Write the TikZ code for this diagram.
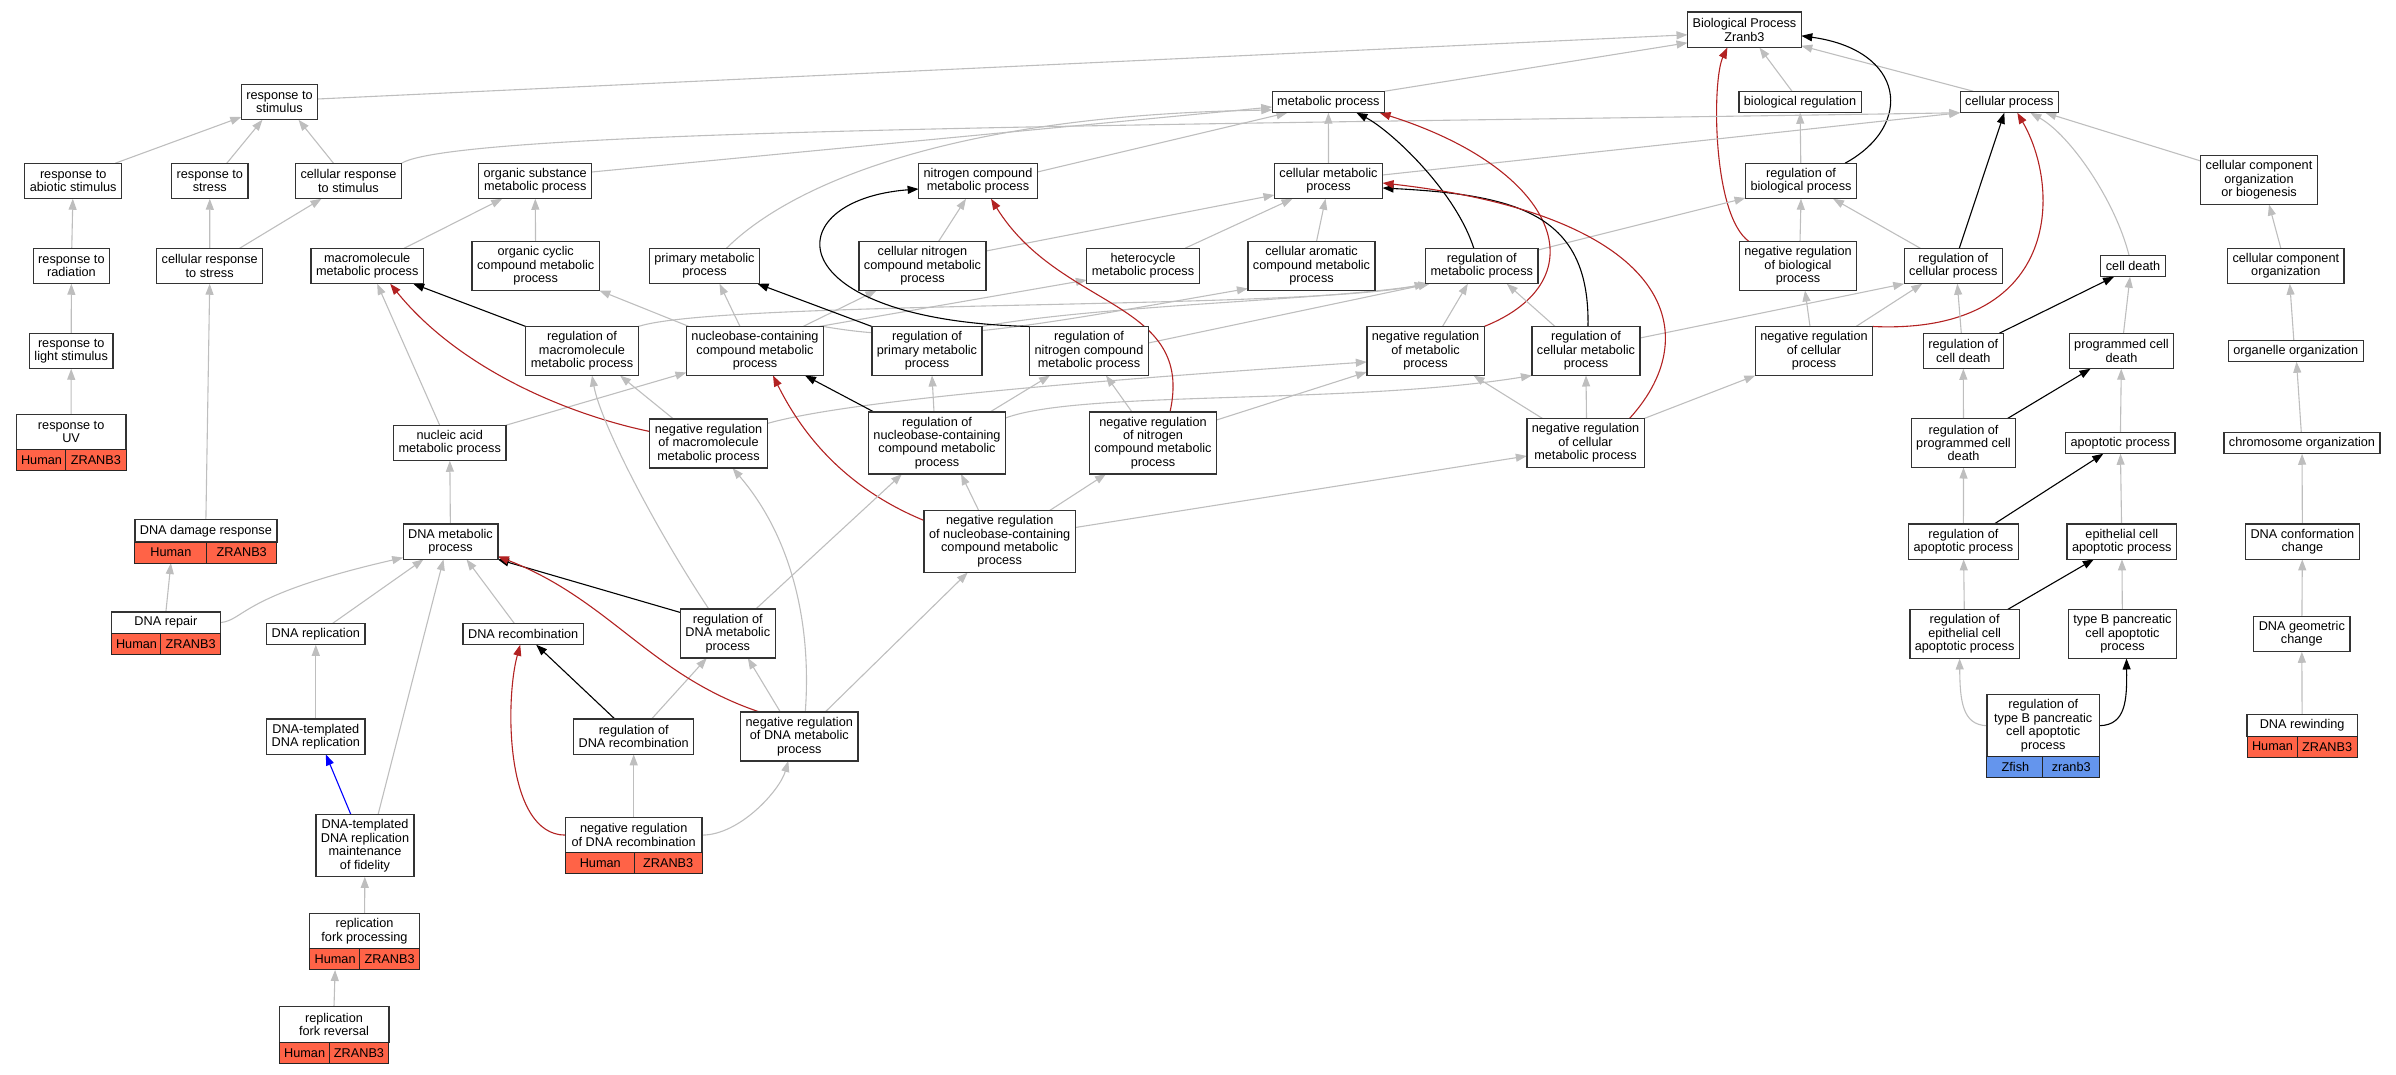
\documentclass[tikz,border=0pt]{standalone}
\usepackage{fontspec}
\setmainfont{Liberation Sans}
\usetikzlibrary{arrows.meta}
\pgfdeclarelayer{background}
\pgfsetlayers{background,main}
\definecolor{edgegray}{RGB}{190,190,190}
\definecolor{negred}{RGB}{178,34,34}
\definecolor{partblue}{RGB}{0,0,255}
\definecolor{humancol}{RGB}{255,99,71}
\definecolor{zfishcol}{RGB}{100,149,237}
\tikzset{
    term/.style={draw=black!80, line width=1.3pt, fill=white, align=center,
        inner xsep=5pt, inner ysep=1pt, outer sep=0pt,
        font=\fontsize{12.7}{13.4}\selectfont},
    l1/.style={minimum height=21.5pt},
    l2/.style={minimum height=35.5pt},
    l3/.style={minimum height=49pt},
    l4/.style={minimum height=62pt},
    human/.style={draw=black!85, line width=1pt, fill=humancol, inner sep=0pt,
        outer sep=0pt, minimum height=21pt, font=\fontsize{12.7}{13.4}\selectfont},
    zfish/.style={human, fill=zfishcol},
    isa/.style={draw=edgegray, line width=1.1pt, -{Triangle[length=11pt,width=8pt]}},
    reg/.style={isa, draw=black},
    negreg/.style={isa, draw=negred},
    partof/.style={isa, draw=partblue},
}
% species / gene row under an annotated term
\newcommand{\genecells}[6]{%
    \node[#2, anchor=north west, minimum width=#5pt] (#1A) at (#1.south west) {#3};
    \node[#2, anchor=north east, minimum width=#6pt] (#1B) at (#1.south east) {#4};
}

\begin{document}
\begin{tikzpicture}[x=1pt,y=-1pt]
    \useasboundingbox (0,0) rectangle (2396,1075);
    %% Root
    \node[term,l2] (bp) at (1744.4,29.8) {Biological Process\\Zranb3};
    %% Level 2
    \node[term,l2] (rstim) at (279.5,102) {response to\\stimulus};
    \node[term,l1] (metab) at (1328.4,102) {metabolic process};
    \node[term,l1] (bioreg) at (1800,102) {biological regulation};
    \node[term,l1] (cellp) at (2009.3,102) {cellular process};
    %% Level 3
    \node[term,l2] (rabio) at (73.2,181) {response to\\abiotic stimulus};
    \node[term,l2] (rstress) at (209.8,181) {response to\\stress};
    \node[term,l2] (crstim) at (348.5,181) {cellular response\\to stimulus};
    \node[term,l2] (orgsub) at (535.2,181) {organic substance\\metabolic process};
    \node[term,l2] (nitro) at (978,181) {nitrogen compound\\metabolic process};
    \node[term,l2] (cellmet) at (1328.5,181) {cellular metabolic\\process};
    \node[term,l2] (regbio) at (1801,181) {regulation of\\biological process};
    \node[term,l3] (ccob) at (2259,180) {cellular component\\organization\\or biogenesis};
    %% Level 4
    \node[term,l2] (rrad) at (71.4,266) {response to\\radiation};
    \node[term,l2] (crstress) at (209.7,266) {cellular response\\to stress};
    \node[term,l2] (macro) at (367.2,266) {macromolecule\\metabolic process};
    \node[term,l3] (orgcyc) at (535.7,266) {organic cyclic\\compound metabolic\\process};
    \node[term,l2] (prim) at (704.5,266) {primary metabolic\\process};
    \node[term,l3] (cellnitro) at (922.5,266) {cellular nitrogen\\compound metabolic\\process};
    \node[term,l2] (hetero) at (1143,266) {heterocycle\\metabolic process};
    \node[term,l3] (cellarom) at (1311.5,266) {cellular aromatic\\compound metabolic\\process};
    \node[term,l2] (regmet) at (1481.8,266) {regulation of\\metabolic process};
    \node[term,l3] (negregbio) at (1798,266) {negative regulation\\of biological\\process};
    \node[term,l2] (regcellp) at (1953.3,266) {regulation of\\cellular process};
    \node[term,l1] (celldeath) at (2133,266) {cell death};
    \node[term,l2] (cco) at (2285.8,266) {cellular component\\organization};
    %% Level 5
    \node[term,l2] (rlight) at (71.2,351) {response to\\light stimulus};
    \node[term,l3] (regmacro) at (582,351) {regulation of\\macromolecule\\metabolic process};
    \node[term,l3] (nucleo) at (755,351) {nucleobase-containing\\compound metabolic\\process};
    \node[term,l3] (regprim) at (927,351) {regulation of\\primary metabolic\\process};
    \node[term,l3] (regnitro) at (1089,351) {regulation of\\nitrogen compound\\metabolic process};
    \node[term,l3] (negregmet) at (1425.5,351) {negative regulation\\of metabolic\\process};
    \node[term,l3] (regcellmet) at (1586,351) {regulation of\\cellular metabolic\\process};
    \node[term,l3] (negregcellp) at (1814,351) {negative regulation\\of cellular\\process};
    \node[term,l2] (regcd) at (1963.3,351) {regulation of\\cell death};
    \node[term,l2] (pcd) at (2121.5,351) {programmed cell\\death};
    \node[term,l1] (orgorg) at (2295.8,351) {organelle organization};
    %% Level 6
    \node[term,l2,minimum width=109.7pt] (ruv) at (71.15,432.2) {response to\\UV};
    \genecells{ruv}{human}{Human}{ZRANB3}{50.5}{60.2}
    \node[term,l2] (nucacid) at (449.7,443) {nucleic acid\\metabolic process};
    \node[term,l3] (negregmacro) at (708.5,443.5) {negative regulation\\of macromolecule\\metabolic process};
    \node[term,l4] (regnucleo) at (937,443) {regulation of\\nucleobase-containing\\compound metabolic\\process};
    \node[term,l4] (negregnitro) at (1153,443) {negative regulation\\of nitrogen\\compound metabolic\\process};
    \node[term,l3] (negregcellmet) at (1585.5,443) {negative regulation\\of cellular\\metabolic process};
    \node[term,l3] (regpcd) at (1963.5,443) {regulation of\\programmed cell\\death};
    \node[term,l1] (apop) at (2120.3,443) {apoptotic process};
    \node[term,l1] (chromo) at (2302,443) {chromosome organization};
    %% Level 7
    \node[term,l1,minimum height=22.5pt,minimum width=141.3pt] (dnadmg) at (205.9,530.8) {DNA damage response};
    \genecells{dnadmg}{human}{Human}{ZRANB3}{72}{70.3}
    \node[term,l2] (dnamet) at (450.5,541.6) {DNA metabolic\\process};
    \node[term,l4] (negregnucleo) at (999.7,541.5) {negative regulation\\of nucleobase-containing\\compound metabolic\\process};
    \node[term,l2] (regapop) at (1963.4,541.6) {regulation of\\apoptotic process};
    \node[term,l2] (epiapop) at (2121.8,541.6) {epithelial cell\\apoptotic process};
    \node[term,l2] (dnaconf) at (2302.4,541.6) {DNA conformation\\change};
    %% Level 8
    \node[term,l1,minimum width=109.3pt] (dnarep) at (165.9,622.6) {DNA repair};
    \genecells{dnarep}{human}{Human}{ZRANB3}{50.5}{59.8}
    \node[term,l1] (dnarepl) at (315.8,634) {DNA replication};
    \node[term,l1] (dnarec) at (523.2,634) {DNA recombination};
    \node[term,l3] (regdnamet) at (727.8,633.5) {regulation of\\DNA metabolic\\process};
    \node[term,l3] (regepi) at (1964.6,634) {regulation of\\epithelial cell\\apoptotic process};
    \node[term,l3] (typeb) at (2122.5,634) {type B pancreatic\\cell apoptotic\\process};
    \node[term,l2] (dnageo) at (2301.8,634) {DNA geometric\\change};
    %% Level 9
    \node[term,l2] (dnatemp) at (315.8,736.6) {DNA-templated\\DNA replication};
    \node[term,l2] (regdnarec) at (633.7,736.6) {regulation of\\DNA recombination};
    \node[term,l3] (negregdnamet) at (799.3,736.4) {negative regulation\\of DNA metabolic\\process};
    \node[term,l4,minimum width=112.7pt] (regtypeb) at (2043.2,725.7) {regulation of\\type B pancreatic\\cell apoptotic\\process};
    \genecells{regtypeb}{zfish}{Zfish}{zranb3}{57.1}{56.6}
    \node[term,l1,minimum width=110.2pt] (dnarew) at (2302.1,725.4) {DNA rewinding};
    \genecells{dnarew}{human}{Human}{ZRANB3}{51}{60.2}
    %% Level 10 and below
    \node[term,l4] (fidel) at (365,845.8) {DNA-templated\\DNA replication\\maintenance\\of fidelity};
    \node[term,l2,minimum width=136.8pt] (negregdnarec) at (633.7,835.1) {negative regulation\\of DNA recombination};
    \genecells{negregdnarec}{human}{Human}{ZRANB3}{69.9}{67.9}
    \node[term,l2,minimum width=110pt] (forkproc) at (364.5,931.2) {replication\\fork processing};
    \genecells{forkproc}{human}{Human}{ZRANB3}{51.2}{59.8}
    \node[term,l2,minimum width=109.7pt] (forkrev) at (334,1024.5) {replication\\fork reversal};
    \genecells{forkrev}{human}{Human}{ZRANB3}{51}{59.7}

    \begin{pgfonlayer}{background}
    %% Straight is_a edges between centres
    \foreach \a/\b in {cellmet/metab, regbio/bioreg, rrad/rabio, crstress/rstress,
        orgcyc/orgsub, rlight/rrad, ruv/rlight, dnamet/nucacid, regpcd/regcd,
        apop/pcd, chromo/orgorg, regapop/regpcd, epiapop/apop, dnaconf/chromo,
        dnatemp/dnarepl, negregdnarec/regdnarec, forkproc/fidel, regepi/regapop,
        typeb/epiapop, dnageo/dnaconf, dnarew/dnageo}
    {
    \draw[isa] (\a) to (\b);
    }
    %% Towards the root
    \draw[isa] ([yshift=3pt]rstim.east) to ([yshift=-5pt]bp.west);
    \draw[isa] (metab.north east) to ([yshift=-13pt]bp.west);
    \draw[isa] ([xshift=-8pt]bioreg.north) to ([xshift=15pt]bp.south);
    \draw[isa] ([xshift=-36pt]cellp.north) to ([yshift=-16pt]bp.east);
    \draw[reg] ([xshift=44pt]regbio.north) .. controls (1915,125) and (1905,50) .. ([yshift=-6pt]bp.east);
    \draw[negreg] ([xshift=-49pt]negregbio.north) .. controls (1712,215) and (1712,80) .. ([xshift=-17pt]bp.south);
    %% Response branch
    \draw[isa] ([xshift=42pt]rabio.north) to ([yshift=-15pt]rstim.west);
    \draw[isa] ([xshift=17pt]rstress.north) to ([xshift=-17pt]rstim.south);
    \draw[isa] ([xshift=-15pt]crstim.north) to ([xshift=19pt]rstim.south);
    \draw[isa] (crstim.north east) .. controls (460,128) and (1200,125) .. (cellp.south west);
    \draw[isa] ([xshift=30pt]crstress.north) to ([xshift=-27pt]crstim.south);
    \draw[isa] (dnadmg.north) to (crstress.south);
    %% Metabolic process
    \draw[isa] ([yshift=9pt]orgsub.east) to ([yshift=-5pt]metab.west);
    \draw[isa] ([yshift=9pt]nitro.east) to ([xshift=-41pt]metab.south);
    \draw[isa] ([yshift=6pt]cellmet.east) to (cellp.south west);
    \draw[isa] ([yshift=19pt]ccob.west) to ([xshift=36pt]cellp.south);
    \draw[isa] ([xshift=37pt]macro.north) to ([xshift=-33pt]orgsub.south);
    \draw[isa] ([xshift=22pt]prim.north) .. controls (790,185) and (950,115) .. ([yshift=-8pt]metab.west);
    \draw[isa] ([xshift=16pt]cellnitro.north) to ([xshift=-12pt]nitro.south);
    \draw[isa] ([yshift=15pt]cellnitro.east) to ([yshift=-14pt]cellmet.west);
    \draw[isa] ([xshift=42pt]hetero.north) to ([xshift=-36pt]cellmet.south);
    \draw[isa] ([xshift=5pt]cellarom.north) to ([xshift=-3pt]cellmet.south);
    \draw[reg] ([xshift=-8pt]regmet.north) .. controls (1455,190) and (1390,130) .. ([xshift=28pt]metab.south);
    \draw[isa] ([yshift=16pt]regmet.east) to ([yshift=-17pt]regbio.west);
    \draw[isa] ([xshift=2pt]negregbio.north) to (regbio.south);
    \draw[isa] ([xshift=-33pt]regcellp.north) to ([xshift=32pt]regbio.south);
    \draw[reg] ([xshift=6pt]regcellp.north) to ([xshift=-5pt]cellp.south);
    \draw[isa] ([xshift=-4pt]celldeath.north) .. controls (2115,200) and (2070,135) .. ([xshift=21pt]cellp.south);
    \draw[isa] ([xshift=-5pt]cco.north) to ([xshift=10pt]ccob.south);
    %% Level 5 to level 4
    \draw[reg] (regmacro.north west) to ([xshift=46pt]macro.south);
    \draw[isa] (regmacro.north east) .. controls (720,300) and (1300,310) .. (regmet.south west);
    \draw[isa] ([xshift=-66pt]nucleo.north) to (orgcyc.south east);
    \draw[isa] ([xshift=-15pt]nucleo.north) to ([xshift=15pt]prim.south);
    \draw[isa] ([xshift=48pt]nucleo.north) to ([xshift=-46pt]cellnitro.south);
    \draw[isa] ([xshift=64pt]nucleo.north) to ([yshift=-14pt]hetero.west);
    \draw[isa] (nucleo.north east) .. controls (930,345) and (1010,330) .. ([yshift=2pt]cellarom.south west);
    \draw[reg] (regprim.north west) to ([xshift=53pt]prim.south);
    \draw[isa] (regprim.north east) .. controls (1100,305) and (1330,300) .. ([xshift=4pt]regmet.south west);
    \draw[reg] (regnitro.north west) .. controls (775,320) and (775,200) .. ([yshift=-8pt]nitro.west);
    \draw[isa] ([yshift=8pt]regnitro.east) to ([xshift=4pt]regmet.south west);
    \draw[negreg] (negregmet.north east) .. controls (1600,280) and (1560,170) .. ([xshift=-5pt]metab.south east);
    \draw[isa] ([xshift=17pt]negregmet.north) to ([xshift=-14pt]regmet.south);
    \draw[reg] ([xshift=2pt]regcellmet.north) .. controls (1590,215) and (1520,195) .. ([yshift=-7pt]cellmet.east);
    \draw[isa] ([xshift=-31pt]regcellmet.north) to ([xshift=25pt]regmet.south);
    \draw[isa] ([yshift=13pt]regcellmet.east) to (regcellp.south west);
    \draw[isa] ([xshift=-4pt]negregcellp.north) to ([xshift=7pt]negregbio.south);
    \draw[isa] ([xshift=42pt]negregcellp.north) to ([xshift=-31pt]regcellp.south);
    \draw[negreg] (negregcellp.north east) .. controls (2060,335) and (2062,190) .. ([xshift=8pt]cellp.south);
    \draw[isa] ([xshift=-2pt]regcd.north) to ([xshift=4pt]regcellp.south);
    \draw[reg] ([xshift=36pt]regcd.north) to ([xshift=-19pt]celldeath.south);
    \draw[isa] ([xshift=2pt]pcd.north) to ([xshift=-3pt]celldeath.south);
    \draw[isa] ([xshift=-2pt]orgorg.north) to ([xshift=4pt]cco.south);
    %% Level 6 to level 5
    \draw[isa] ([xshift=-10pt]nucacid.north) to ([xshift=10pt]macro.south);
    \draw[isa] (nucacid.north east) to ([yshift=3pt]nucleo.south west);
    \draw[negreg] ([yshift=12pt]negregmacro.west) .. controls (570,415) and (460,370) .. ([xshift=23pt]macro.south);
    \draw[isa] ([xshift=-35pt]negregmacro.north) to ([xshift=38pt]regmacro.south);
    \draw[isa] ([yshift=20pt]negregmacro.east) .. controls (850,400) and (1100,380) .. ([yshift=-11pt]negregmet.west);
    \draw[reg] ([xshift=-63pt]regnucleo.north) to ([xshift=50pt]nucleo.south);
    \draw[isa] ([xshift=-3pt]regnucleo.north) to ([xshift=5pt]regprim.south);
    \draw[isa] ([xshift=53pt]regnucleo.north) to ([xshift=-39pt]regnitro.south);
    \draw[isa] ([yshift=25pt]regnucleo.east) .. controls (1080,390) and (1350,405) .. (regcellmet.south west);
    \draw[negreg] ([xshift=17pt]negregnitro.north) .. controls (1195,300) and (1060,310) .. ([xshift=13pt]nitro.south);
    \draw[isa] ([xshift=-21pt]negregnitro.north) to ([xshift=17pt]regnitro.south);
    \draw[isa] ([yshift=23pt]negregnitro.east) to ([yshift=-21pt]negregmet.west);
    \draw[isa] ([xshift=1pt]negregcellmet.north) to (regcellmet.south);
    \draw[isa] ([xshift=-43pt]negregcellmet.north) to ([xshift=48pt]negregmet.south);
    \draw[isa] (negregcellmet.north east) to (negregcellp.south west);
    \draw[negreg] ([xshift=44pt]negregcellmet.north) .. controls (1710,330) and (1665,215) .. ([yshift=-2pt]cellmet.east);
    \draw[reg] ([xshift=44pt]regpcd.north) to ([xshift=-31pt]pcd.south);
    %% Level 7 to level 6
    \draw[negreg] ([yshift=21pt]negregnucleo.west) .. controls (850,490) and (805,440) .. ([xshift=18pt]nucleo.south);
    \draw[isa] ([xshift=-21pt]negregnucleo.north) to ([xshift=24pt]regnucleo.south);
    \draw[isa] ([xshift=50pt]negregnucleo.north) to ([xshift=-47pt]negregnitro.south);
    \draw[isa] ([yshift=14pt]negregnucleo.east) to ([yshift=-13pt]negregcellmet.west);
    \draw[reg] ([xshift=31pt]regapop.north) to ([xshift=-17pt]apop.south);
    %% DNA metabolism
    \draw[isa] (dnarep.north) to (dnadmgA.south);
    \draw[isa] (dnarep.east) .. controls (245,620) and (240,595) .. ([yshift=-16pt]dnamet.west);
    \draw[isa] ([xshift=17pt]dnarepl.north) to ([xshift=-27pt]dnamet.south);
    \draw[isa] ([xshift=-9pt]dnarec.north) to ([xshift=16pt]dnamet.south);
    \draw[reg] ([yshift=21pt]regdnamet.west) to (dnamet.south east);
    \draw[isa] ([xshift=-19pt]regdnamet.north) .. controls (650,520) and (600,420) .. ([xshift=10pt]regmacro.south);
    \draw[isa] ([xshift=28pt]regdnamet.north) to ([xshift=-35pt]regnucleo.south);
    \draw[reg] ([xshift=-19pt]regdnarec.north) to ([xshift=13pt]dnarec.south);
    \draw[isa] ([xshift=18pt]regdnarec.north) to ([xshift=-21pt]regdnamet.south);
    \draw[isa] ([xshift=-19pt]negregdnamet.north) to ([xshift=20pt]regdnamet.south);
    \draw[negreg] ([xshift=-40pt]negregdnamet.north) .. controls (650,675) and (610,600) .. ([yshift=3pt]dnamet.south east);
    \draw[isa] ([xshift=26pt]negregdnamet.north) to ([xshift=-32pt]negregnucleo.south);
    \draw[isa] ([xshift=6pt]negregdnamet.north) .. controls (812,620) and (790,535) .. ([xshift=24pt]negregmacro.south);
    \draw[partof] ([xshift=-14pt]fidel.north) to ([xshift=10pt]dnatemp.south);
    \draw[isa] ([xshift=13pt]fidel.north) to ([xshift=-7pt]dnamet.south);
    \draw[negreg] (negregdnarec.west) .. controls (505,835) and (505,700) .. ([xshift=-3pt]dnarec.south);
    \draw[isa] (negregdnarec.east) .. controls (740,835) and (780,790) .. ([xshift=-11pt]negregdnamet.south);
    \draw[isa] (forkrev.north) to (forkprocA.south);
    %% Apoptosis
    \draw[reg] ([xshift=43pt]regepi.north) to ([xshift=-28pt]epiapop.south);
    \draw[isa] (regtypeb.west) .. controls (1962,725) and (1960,700) .. ([xshift=-5pt]regepi.south);
    \draw[reg] (regtypeb.east) .. controls (2126,725) and (2127,700) .. ([xshift=4pt]typeb.south);
    \end{pgfonlayer}
\end{tikzpicture}
\end{document}
